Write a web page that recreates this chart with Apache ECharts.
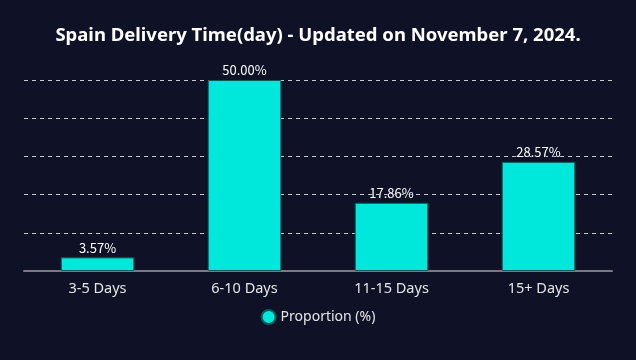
<!DOCTYPE html>
<html><head><meta charset="utf-8">
<script src="https://cdn.jsdelivr.net/npm/echarts@6/dist/echarts.min.js"></script>
<style>html,body{margin:0;padding:0;background:#0f1226;}#c{width:636px;height:360px;}</style>
</head><body><div id="c"></div>
<script>
const categories = ["3-5 Days", "6-10 Days", "11-15 Days", "15+ Days"];
const proportion = [3.57, 50.00, 17.86, 28.57];
const seriesName = "Proportion (%)";
const titleText = "Spain Delivery Time(day) - Updated on November 7, 2024.";

const chart = echarts.init(document.getElementById('c'));
chart.setOption({
  backgroundColor: '#0f1226',
  animation: false,
  title: {
    text: titleText, left: 'center', top: 21,
    textStyle: { color: '#ffffff', fontSize: 18.5, fontWeight: 'bold', fontFamily: 'Noto Sans, sans-serif' }
  },
  legend: {
    data: [seriesName], bottom: 30, icon: 'circle', itemWidth: 14, itemHeight: 14,
    textStyle: { color: '#e6e6e6', fontSize: 14, fontFamily: 'Noto Sans, sans-serif' }
  },
  grid: { left: 24, right: 24, top: 80, bottom: 89 },
  xAxis: {
    type: 'category', data: categories,
    axisLine: { lineStyle: { color: '#7a7a80', width: 2 } },
    axisTick: { alignWithLabel: true, lineStyle: { color: '#7a7a80' } },
    axisLabel: { color: '#e6e6e6', fontSize: 14.5, margin: 10, fontFamily: 'Noto Sans, sans-serif' }
  },
  yAxis: {
    type: 'value', min: 0, max: 50, interval: 10,
    axisLabel: { show: false }, axisLine: { show: false }, axisTick: { show: false },
    splitLine: { lineStyle: { color: '#c8c8c8', type: [4, 4] } }
  },
  series: [{
    name: seriesName, type: 'bar', data: proportion, barWidth: '50%',
    itemStyle: { color: '#00e8dc', borderColor: '#0b5a5a', borderWidth: 1 },
    label: {
      show: true, position: 'top', distance: 3, color: '#ffffff', fontSize: 13,
      fontFamily: 'Noto Sans CJK SC, sans-serif',
      formatter: p => p.value.toFixed(2) + '%',
      textBorderColor: '#0f1226', textBorderWidth: 1
    }
  }]
});
</script></body></html>
